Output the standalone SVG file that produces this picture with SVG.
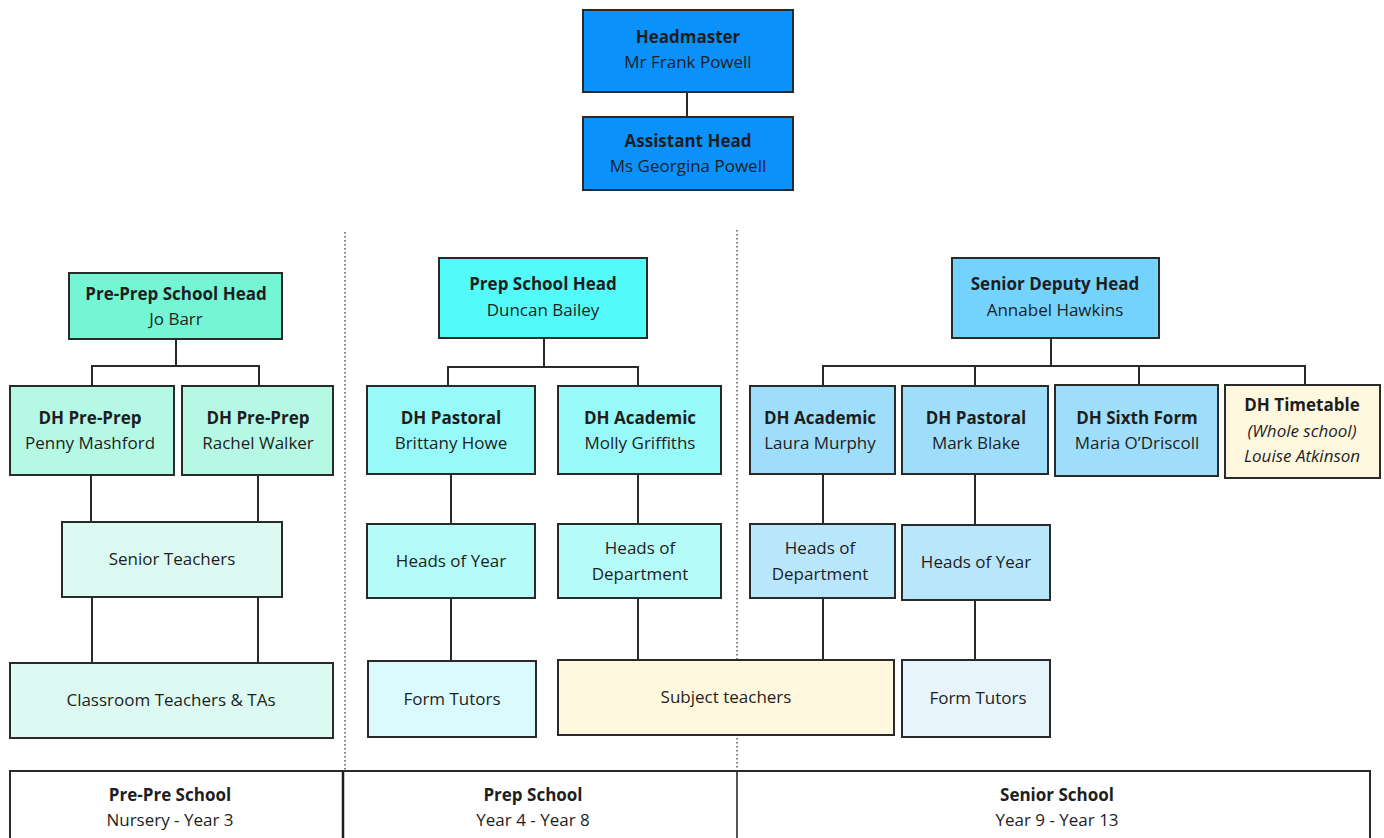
<svg xmlns="http://www.w3.org/2000/svg" width="1384" height="838" viewBox="0 0 1384 838">
<style>
text{font-family:"Open Sans",Lato,"Liberation Sans",sans-serif;font-size:17px;fill:#1e1e1e;text-anchor:middle}
.b{font-weight:bold}
.i{font-style:italic}
.n{stroke:#2a2a2a;stroke-width:2}
.c{stroke:#2a2a2a;stroke-width:2;fill:none}
.d{stroke:#555;stroke-width:1.5;stroke-dasharray:1.5 2.5;fill:none}
</style>
<rect x="0" y="0" width="1384" height="838" fill="#fff"/>
<g id="dividers">
<line class="d" x1="345" y1="232" x2="345" y2="771"/>
<line class="d" x1="737" y1="230" x2="737" y2="771"/>
</g>
<g id="connectors">
<path class="c" d="M687 92V117"/>
<path class="c" d="M176 339V366M92 387V366H259V387M91 475V522M258 475V522M92 597V663M258 597V663"/>
<path class="c" d="M544 338V367M448 387V367H638V387M451 474V524M638 474V524M451 598V661M638 598V660"/>
<path class="c" d="M1051 338V366M823 386V366H1305V386M975 366V386M1139 366V385M823 474V524M975 474V525M823 598V662M975 600V660"/>
</g>
<g id="headmaster"><rect class="n" x="583" y="10" width="210" height="82" fill="#0a91fb"/><text class="b" x="688" y="43">Headmaster</text><text x="688" y="68">Mr Frank Powell</text></g>
<g id="assistant-head"><rect class="n" x="583" y="117" width="210" height="73" fill="#0a91fb"/><text class="b" x="688" y="147">Assistant Head</text><text x="688" y="172">Ms Georgina Powell</text></g>
<g id="preprep-head"><rect class="n" x="69" y="273" width="213" height="66" fill="#74f6d5"/><text class="b" x="176" y="300">Pre-Prep School Head</text><text x="176" y="325">Jo Barr</text></g>
<g id="dh-preprep-1"><rect class="n" x="10" y="386" width="164" height="89" fill="#b5f8e4"/><text class="b" x="90" y="424">DH Pre-Prep</text><text x="90" y="449">Penny Mashford</text></g>
<g id="dh-preprep-2"><rect class="n" x="182" y="386" width="151" height="89" fill="#b5f8e4"/><text class="b" x="258" y="424">DH Pre-Prep</text><text x="258" y="449">Rachel Walker</text></g>
<g id="senior-teachers"><rect class="n" x="62" y="522" width="220" height="75" fill="#dcfaf2"/><text x="172" y="565">Senior Teachers</text></g>
<g id="classroom-teachers"><rect class="n" x="10" y="663" width="323" height="75" fill="#dcfaf2"/><text x="171" y="706">Classroom Teachers &amp; TAs</text></g>
<g id="prep-head"><rect class="n" x="439" y="258" width="208" height="80" fill="#52fafa"/><text class="b" x="543" y="290">Prep School Head</text><text x="543" y="316">Duncan Bailey</text></g>
<g id="prep-dh-pastoral"><rect class="n" x="367" y="386" width="168" height="88" fill="#98faf8"/><text class="b" x="451" y="424">DH Pastoral</text><text x="451" y="449">Brittany Howe</text></g>
<g id="prep-dh-academic"><rect class="n" x="558" y="386" width="163" height="88" fill="#98faf8"/><text class="b" x="640" y="424">DH Academic</text><text x="640" y="449">Molly Griffiths</text></g>
<g id="prep-heads-year"><rect class="n" x="367" y="524" width="168" height="74" fill="#b5fbf8"/><text x="451" y="567">Heads of Year</text></g>
<g id="prep-heads-dept"><rect class="n" x="558" y="524" width="163" height="74" fill="#b5fbf8"/><text x="640" y="554">Heads of</text><text x="640" y="580">Department</text></g>
<g id="prep-form-tutors"><rect class="n" x="368" y="661" width="168" height="76" fill="#dafafd"/><text x="452" y="705">Form Tutors</text></g>
<g id="subject-teachers"><rect class="n" x="558" y="660" width="336" height="75" fill="#fff8de"/><text x="726" y="703">Subject teachers</text></g>
<g id="senior-deputy"><rect class="n" x="952" y="258" width="207" height="80" fill="#73d3fd"/><text class="b" x="1055" y="290">Senior Deputy Head</text><text x="1055" y="316">Annabel Hawkins</text></g>
<g id="senior-dh-academic"><rect class="n" x="750" y="386" width="145" height="88" fill="#9edefb"/><text class="b" x="820" y="424">DH Academic</text><text x="820" y="449">Laura Murphy</text></g>
<g id="senior-dh-pastoral"><rect class="n" x="902" y="386" width="146" height="88" fill="#9edefb"/><text class="b" x="976" y="424">DH Pastoral</text><text x="976" y="449">Mark Blake</text></g>
<g id="dh-sixth-form"><rect class="n" x="1055" y="385" width="163" height="91" fill="#9edefb"/><text class="b" x="1137" y="424">DH Sixth Form</text><text x="1137" y="449">Maria O’Driscoll</text></g>
<g id="dh-timetable"><rect class="n" x="1225" y="385" width="155" height="93" fill="#fff8de"/><text class="b" x="1302" y="411">DH Timetable</text><text class="i" x="1302" y="437">(Whole school)</text><text class="i" x="1302" y="462">Louise Atkinson</text></g>
<g id="senior-heads-dept"><rect class="n" x="750" y="524" width="145" height="74" fill="#b8e6fb"/><text x="820" y="554">Heads of</text><text x="820" y="580">Department</text></g>
<g id="senior-heads-year"><rect class="n" x="902" y="525" width="148" height="75" fill="#b8e6fb"/><text x="976" y="568">Heads of Year</text></g>
<g id="senior-form-tutors"><rect class="n" x="902" y="660" width="148" height="77" fill="#e8f4fb"/><text x="978" y="704">Form Tutors</text></g>
<g id="footer">
<rect class="n" x="10" y="771" width="1360" height="80" fill="#fff"/>
<line x1="343" y1="771" x2="343" y2="838" stroke="#1e1e1e" stroke-width="2.5"/>
<line x1="737" y1="771" x2="737" y2="838" stroke="#1e1e1e" stroke-width="1.5"/>
<text class="b" x="170" y="801">Pre-Pre School</text><text x="170" y="826">Nursery - Year 3</text>
<text class="b" x="533" y="801">Prep School</text><text x="533" y="826">Year 4  - Year 8</text>
<text class="b" x="1057" y="801">Senior School</text><text x="1057" y="826">Year 9  - Year 13</text>
</g>
</svg>
